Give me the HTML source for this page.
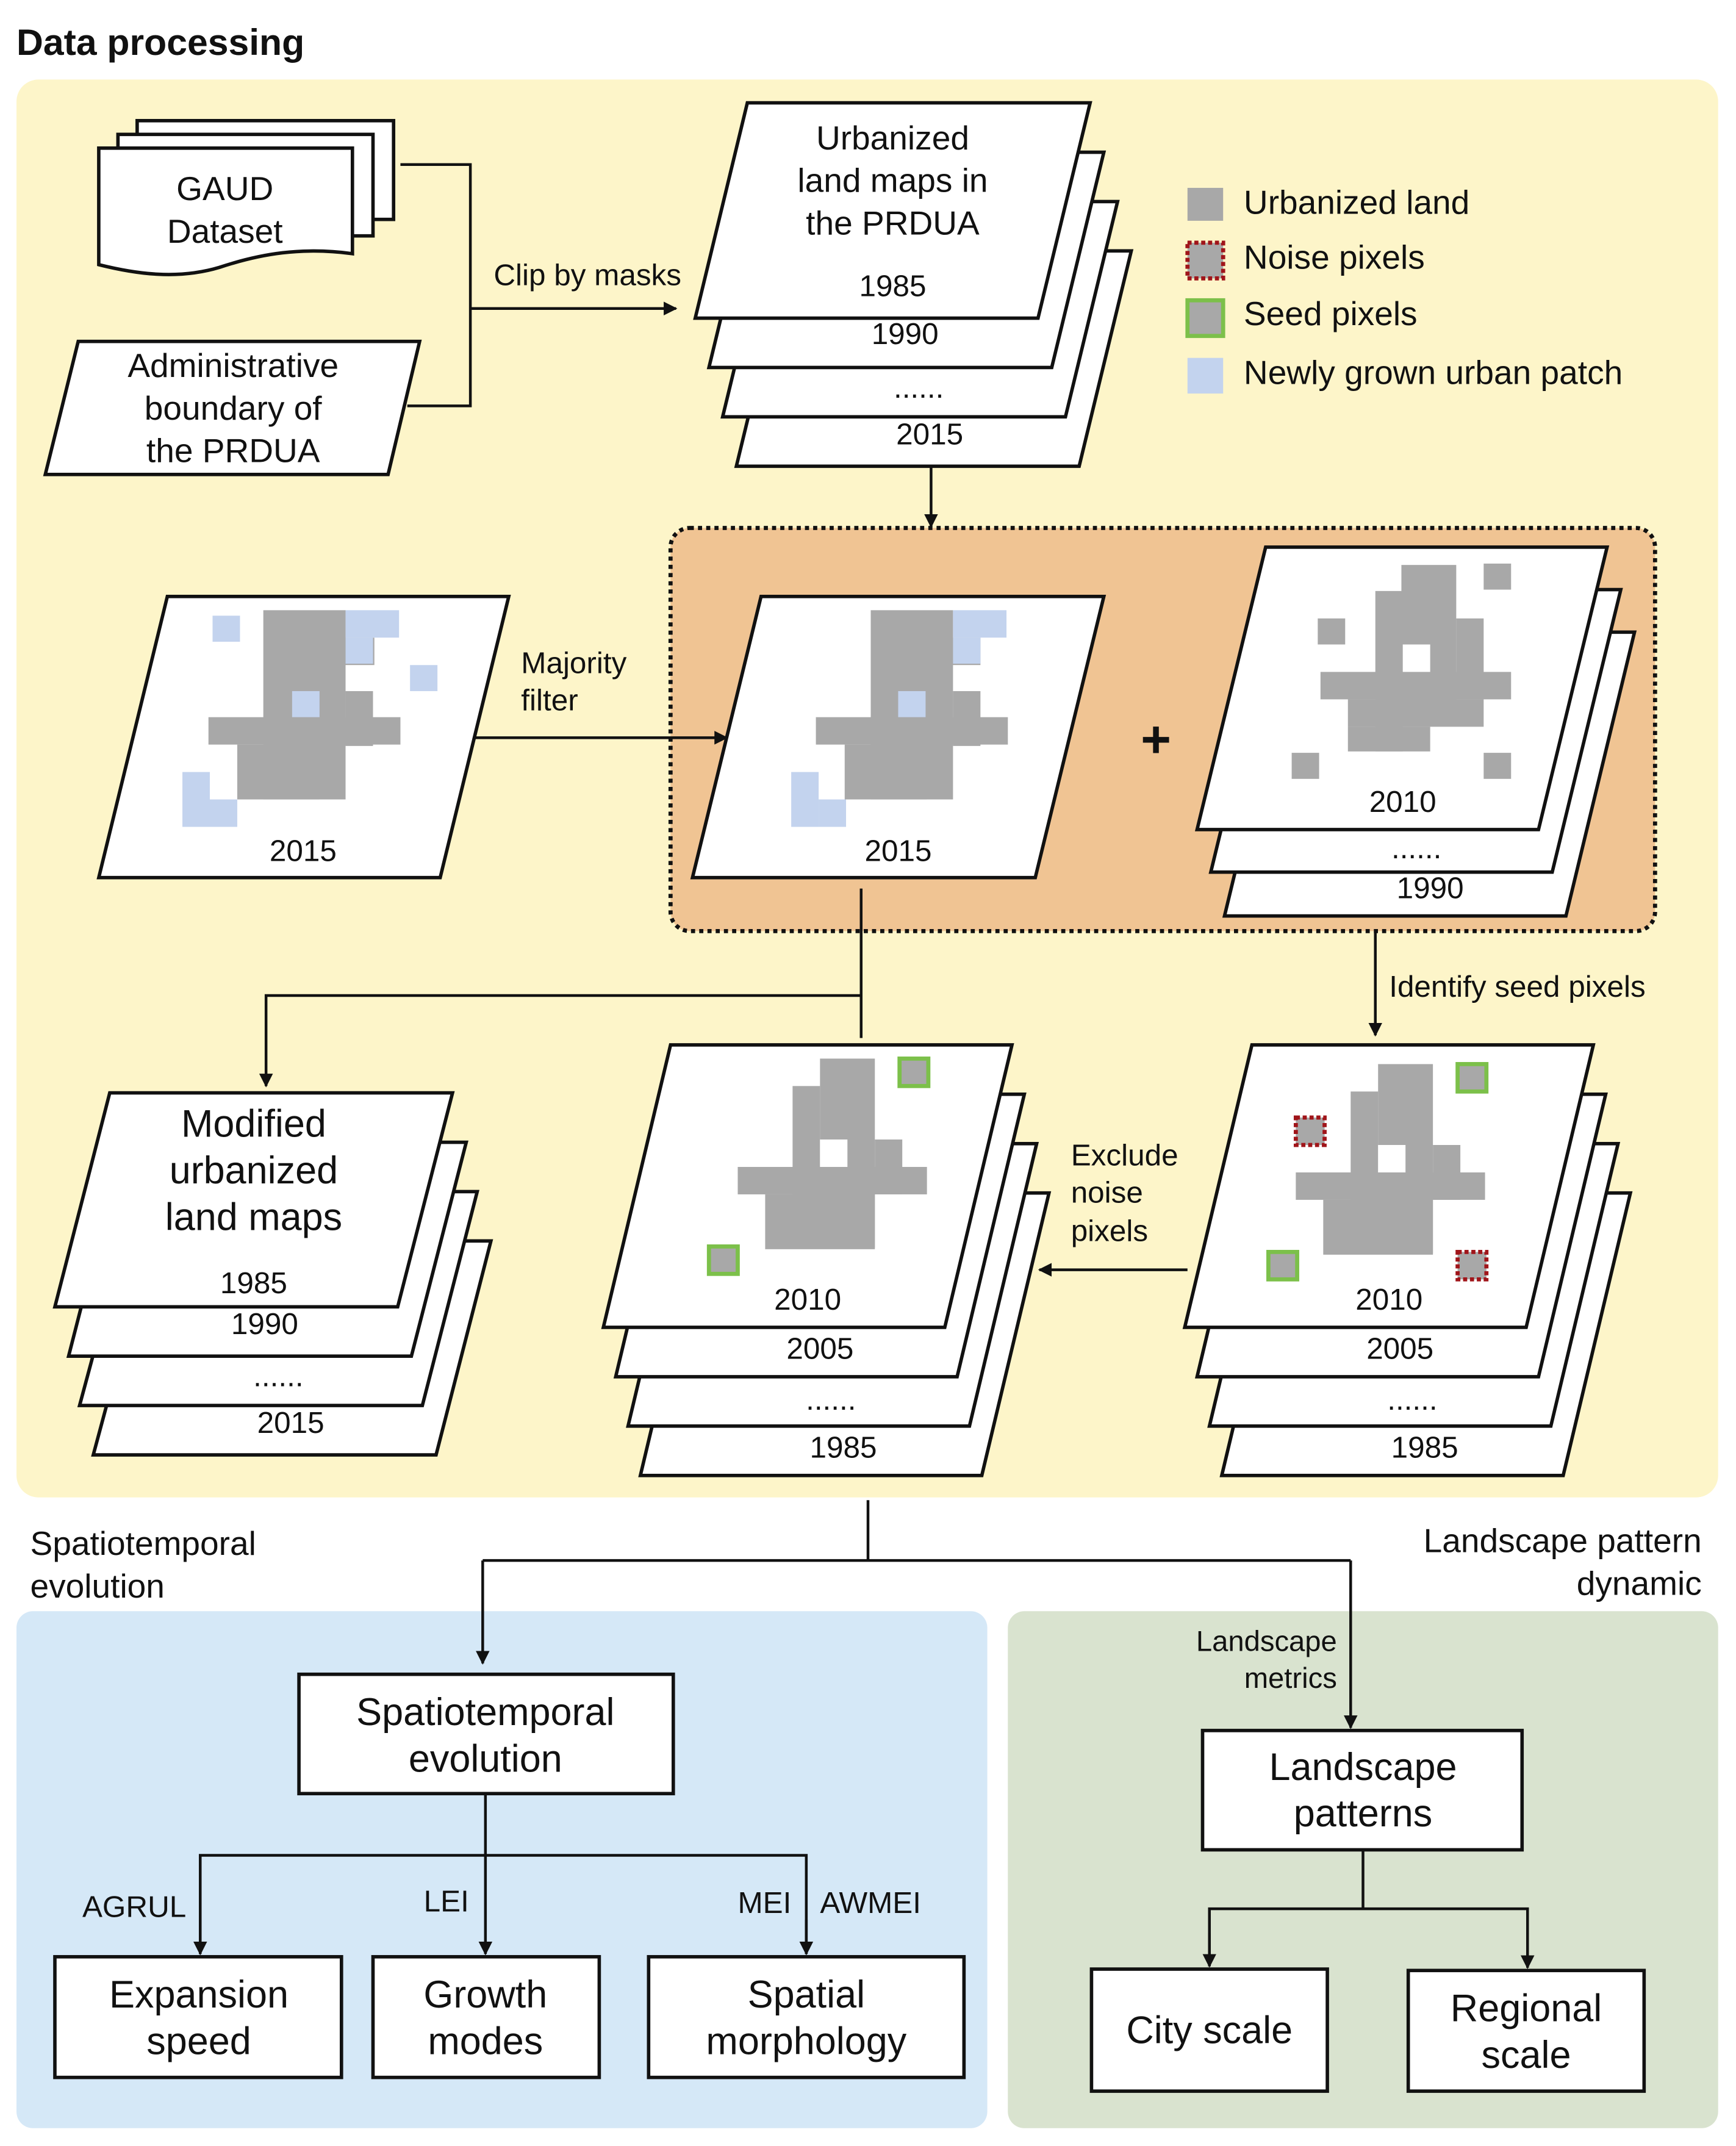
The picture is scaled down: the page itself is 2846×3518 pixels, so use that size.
<!DOCTYPE html>
<html><head><meta charset="utf-8"><style>
html,body{margin:0;padding:0;background:#fff;}
svg{display:block;}
text{font-family:"Liberation Sans",Arial,sans-serif;fill:#111;}
</style></head><body>
<svg width="2846" height="3518" viewBox="0 0 1266 1565" xmlns="http://www.w3.org/2000/svg">
<defs>
<marker id="ar" markerWidth="10" markerHeight="10" refX="9" refY="5" orient="auto" markerUnits="userSpaceOnUse"><path d="M0,0 L10,5 L0,10 Z" fill="#111"/></marker>
</defs>
<rect width="1266" height="1565" fill="#fff"/>
<text x="12" y="40" font-size="27" font-weight="bold">Data processing</text>
<rect x="12" y="58" width="1241" height="1034" rx="16" fill="#fdf5c9"/>
<rect x="12" y="1175" width="708" height="377" rx="12" fill="#d5e8f7"/>
<rect x="735" y="1175" width="518" height="377" rx="12" fill="#d9e3cf"/>
<rect x="489" y="385" width="718" height="294" rx="14" fill="#f0c493" stroke="#111" stroke-width="3" stroke-dasharray="3,3"/>

<g stroke="#111" stroke-width="2.5" fill="#fff">
<path d="M100,88 H287 V160 H100 Z"/>
<path d="M86,98 H272 V172 H86 Z"/>
<path d="M72,108 H257 V185 C220,180 190,185 160,195 C130,204 100,200 72,193 Z"/>
<polygon points="57,249 306,249 283,346 33,346"/>
<polygon points="575,183 825,183 787,340 537,340"/>
<polygon points="565,147 815,147 777,304 527,304"/>
<polygon points="555,111 805,111 767,268 517,268"/>
<polygon points="545,75 795,75 757,232 507,232"/>
<polygon points="122,435 371,435 321,640 72,640"/>
<polygon points="555,435 805,435 755,640 505,640"/>
<polygon points="943,461 1192,461 1142,668 893,668"/>
<polygon points="933,430 1182,430 1132,636 883,636"/>
<polygon points="923,399 1172,399 1122,605 873,605"/>
<polygon points="110,905 358,905 318,1061 68,1061"/>
<polygon points="100,869 348,869 308,1025 58,1025"/>
<polygon points="90,833 340,833 300,989 50,989"/>
<polygon points="80,797 330,797 290,953 40,953"/>
<polygon points="516,870 765,870 716,1076 467,1076"/>
<polygon points="507,834 756,834 707,1040 458,1040"/>
<polygon points="498,798 747,798 698,1004 449,1004"/>
<polygon points="489,762 738,762 689,968 440,968"/>
<polygon points="940,870 1189,870 1140,1076 891,1076"/>
<polygon points="931,834 1180,834 1131,1040 882,1040"/>
<polygon points="922,798 1171,798 1122,1004 873,1004"/>
<polygon points="913,762 1162,762 1113,968 864,968"/>
<rect x="218" y="1221" width="273" height="87"/>
<rect x="40" y="1427" width="209" height="88"/>
<rect x="272" y="1427" width="165" height="88"/>
<rect x="473" y="1427" width="230" height="88"/>
<rect x="877" y="1262" width="233" height="87"/>
<rect x="796" y="1436" width="172" height="89"/>
<rect x="1027" y="1437" width="172" height="88"/>
</g>

<g fill="#a8a8a8">
<rect x="192" y="445" width="60" height="138"/><rect x="152" y="523" width="140" height="20"/><rect x="252" y="504" width="20" height="40"/><rect x="173" y="543" width="60" height="40"/><rect x="233" y="465" width="40" height="20"/>
<rect x="635" y="445" width="60" height="138"/><rect x="595" y="523" width="140" height="20"/><rect x="695" y="504" width="20" height="40"/><rect x="616" y="543" width="60" height="40"/><rect x="675" y="465" width="40" height="20"/>
<rect x="1022" y="412" width="40" height="98"/><rect x="1003" y="431" width="20" height="117"/><rect x="1062" y="451" width="20" height="40"/><rect x="963" y="490" width="139" height="20"/><rect x="983" y="510" width="99" height="20"/><rect x="983" y="530" width="60" height="18"/>
<rect x="961" y="451" width="20" height="19"/><rect x="1082" y="411" width="20" height="19"/><rect x="942" y="549" width="20" height="19"/><rect x="1082" y="549" width="20" height="19"/>
<rect x="598" y="772" width="40" height="138"/><rect x="578" y="792" width="20" height="118"/><rect x="538" y="851" width="138" height="20"/><rect x="558" y="871" width="80" height="40"/><rect x="638" y="831" width="20" height="40"/>
<rect x="1005" y="776" width="40" height="138"/><rect x="985" y="796" width="20" height="118"/><rect x="945" y="855" width="138" height="20"/><rect x="965" y="875" width="80" height="40"/><rect x="1045" y="835" width="20" height="40"/>
</g>
<g fill="#fff"><rect x="598" y="831" width="20" height="20"/><rect x="1005" y="835" width="20" height="20"/><rect x="1023" y="470" width="20" height="20"/></g>
<g fill="#c3d3ee">
<rect x="155" y="449" width="20" height="19"/><rect x="252" y="445" width="39" height="20"/><rect x="252" y="465" width="20" height="19"/><rect x="299" y="485" width="20" height="19"/><rect x="213" y="504" width="20" height="19"/><rect x="133" y="563" width="20" height="40"/><rect x="153" y="583" width="20" height="20"/>
<rect x="695" y="445" width="39" height="20"/><rect x="695" y="465" width="20" height="19"/><rect x="655" y="504" width="20" height="19"/><rect x="577" y="563" width="20" height="40"/><rect x="597" y="583" width="20" height="20"/>
</g>
<g fill="#a8a8a8" stroke="#7cc04a" stroke-width="3">
<rect x="656" y="772" width="21" height="20"/><rect x="517" y="909" width="21" height="20"/>
<rect x="1063" y="776" width="21" height="20"/><rect x="925" y="913" width="21" height="20"/>
<rect x="866" y="219" width="26" height="26"/>
</g>
<g fill="#a8a8a8" stroke="#a0151a" stroke-width="3" stroke-dasharray="3,2">
<rect x="945" y="815" width="21" height="20"/><rect x="1063" y="913" width="21" height="20"/>
<rect x="866" y="177" width="26" height="26"/>
</g>
<rect x="866" y="137" width="26" height="24" fill="#a8a8a8"/>
<rect x="866" y="261" width="26" height="26" fill="#c3d3ee"/>

<g stroke="#111" stroke-width="2" fill="none">
<polyline points="292,120 343,120 343,296 297,296"/>
<line x1="343" y1="225" x2="493" y2="225" marker-end="url(#ar)"/>
<line x1="679" y1="340" x2="679" y2="384" marker-end="url(#ar)"/>
<line x1="345" y1="538" x2="530" y2="538" marker-end="url(#ar)"/>
<line x1="628" y1="648" x2="628" y2="757"/>
<polyline points="628,726 194,726 194,792" marker-end="url(#ar)"/>
<line x1="1003" y1="679" x2="1003" y2="755" marker-end="url(#ar)"/>
<line x1="866" y1="926" x2="758" y2="926" marker-end="url(#ar)"/>
<line x1="633" y1="1094" x2="633" y2="1138"/>
<line x1="352" y1="1138" x2="985" y2="1138"/>
<line x1="352" y1="1138" x2="352" y2="1213" marker-end="url(#ar)"/>
<line x1="985" y1="1138" x2="985" y2="1260" marker-end="url(#ar)"/>
<line x1="354" y1="1308" x2="354" y2="1425" marker-end="url(#ar)"/>
<polyline points="146,1425 146,1353 588,1353 588,1425"/>
<line x1="146" y1="1400" x2="146" y2="1425" marker-end="url(#ar)"/>
<line x1="588" y1="1400" x2="588" y2="1425" marker-end="url(#ar)"/>
<line x1="994" y1="1349" x2="994" y2="1392"/>
<polyline points="882,1433 882,1392 1114,1392 1114,1433"/>
<line x1="882" y1="1410" x2="882" y2="1434" marker-end="url(#ar)"/>
<line x1="1114" y1="1410" x2="1114" y2="1435" marker-end="url(#ar)"/>
</g>
<text x="843" y="552" font-size="38" font-weight="bold" text-anchor="middle">+</text>

<g font-size="24.5" text-anchor="middle">
<text x="164" y="146">GAUD</text><text x="164" y="177">Dataset</text>
<text x="170" y="275">Administrative</text><text x="170" y="306">boundary of</text><text x="170" y="337">the PRDUA</text>
<text x="651" y="109">Urbanized</text><text x="651" y="140">land maps in</text><text x="651" y="171">the PRDUA</text>
<text x="651" y="216" font-size="22">1985</text><text x="660" y="251" font-size="22">1990</text><text x="670" y="290" font-size="22">......</text><text x="678" y="324" font-size="22">2015</text>
<text x="221" y="628" font-size="22">2015</text><text x="655" y="628" font-size="22">2015</text>
<text x="1023" y="592" font-size="22">2010</text><text x="1033" y="626" font-size="22">......</text><text x="1043" y="655" font-size="22">1990</text>
<text x="185" y="829" font-size="28">Modified</text><text x="185" y="863" font-size="28">urbanized</text><text x="185" y="897" font-size="28">land maps</text>
<text x="185" y="943" font-size="22">1985</text><text x="193" y="973" font-size="22">1990</text><text x="203" y="1011" font-size="22">......</text><text x="212" y="1045" font-size="22">2015</text>
<text x="589" y="955" font-size="22">2010</text><text x="598" y="991" font-size="22">2005</text><text x="606" y="1028" font-size="22">......</text><text x="615" y="1063" font-size="22">1985</text>
<text x="1013" y="955" font-size="22">2010</text><text x="1021" y="991" font-size="22">2005</text><text x="1030" y="1028" font-size="22">......</text><text x="1039" y="1063" font-size="22">1985</text>
<text x="354" y="1258" font-size="28">Spatiotemporal</text><text x="354" y="1292" font-size="28">evolution</text>
<text x="145" y="1464" font-size="28">Expansion</text><text x="145" y="1498" font-size="28">speed</text>
<text x="354" y="1464" font-size="28">Growth</text><text x="354" y="1498" font-size="28">modes</text>
<text x="588" y="1464" font-size="28">Spatial</text><text x="588" y="1498" font-size="28">morphology</text>
<text x="994" y="1298" font-size="28">Landscape</text><text x="994" y="1332" font-size="28">patterns</text>
<text x="882" y="1490" font-size="28">City scale</text>
<text x="1113" y="1474" font-size="28">Regional</text><text x="1113" y="1508" font-size="28">scale</text>
</g>
<g font-size="22">
<text x="360" y="208">Clip by masks</text>
<text x="380" y="491">Majority</text><text x="380" y="518">filter</text>
<text x="1013" y="727">Identify seed pixels</text>
<text x="781" y="850">Exclude</text><text x="781" y="877">noise</text><text x="781" y="905">pixels</text>
<text x="907" y="156" font-size="24.5">Urbanized land</text>
<text x="907" y="196" font-size="24.5">Noise pixels</text>
<text x="907" y="237" font-size="24.5">Seed pixels</text>
<text x="907" y="280" font-size="24.5">Newly grown urban patch</text>
<text x="22" y="1134" font-size="24.5">Spatiotemporal</text><text x="22" y="1165" font-size="24.5">evolution</text>
<text x="1241" y="1132" font-size="24.5" text-anchor="end">Landscape pattern</text><text x="1241" y="1163" font-size="24.5" text-anchor="end">dynamic</text>
<text x="975" y="1204" text-anchor="end" font-size="21">Landscape</text><text x="975" y="1231" text-anchor="end" font-size="21">metrics</text>
<text x="60" y="1398">AGRUL</text><text x="309" y="1394">LEI</text><text x="538" y="1395">MEI</text><text x="598" y="1395">AWMEI</text>
</g>
</svg>
</body></html>
